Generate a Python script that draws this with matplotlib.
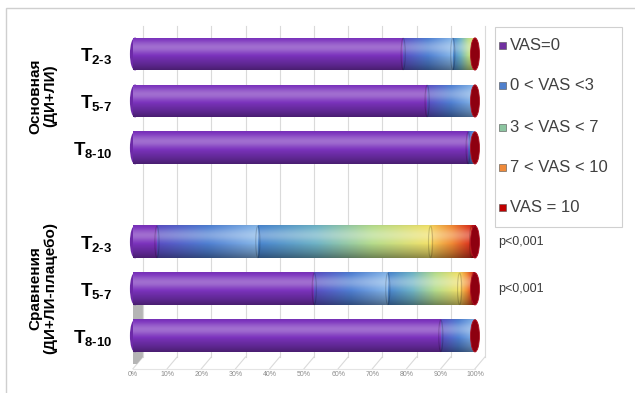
import numpy as np
import matplotlib
matplotlib.use("Agg")
import matplotlib.pyplot as plt
from matplotlib.patches import Ellipse, Rectangle, Polygon
from matplotlib.colors import LinearSegmentedColormap

plt.rcParams['font.family'] = ['Liberation Sans', 'DejaVu Sans']
plt.rcParams['mathtext.fontset'] = 'custom'
plt.rcParams['mathtext.bf'] = 'Liberation Sans:bold'
plt.rcParams['mathtext.rm'] = 'Liberation Sans'

# ---------------- data ----------------
HY = '\u2010'
categories = ['$\\mathbf{T}_{\\mathbf{2' + HY + '3}}$', '$\\mathbf{T}_{\\mathbf{5' + HY + '7}}$',
              '$\\mathbf{T}_{\\mathbf{8' + HY + '10}}$',
              '$\\mathbf{T}_{\\mathbf{2' + HY + '3}}$', '$\\mathbf{T}_{\\mathbf{5' + HY + '7}}$',
              '$\\mathbf{T}_{\\mathbf{8' + HY + '10}}$']
positions = [0, 1, 2, 4, 5, 6]
series_names = ['VAS=0', '0 < VAS <3', '3 < VAS < 7', '7 < VAS < 10', 'VAS = 10']
vas_0 = [79, 86, 98, 7, 53, 90]
vas_0_3 = [14.5, 14, 2, 29.5, 21.5, 10]
vas_3_7 = [6.5, 0, 0, 50.5, 21, 0]
vas_7_10 = [0, 0, 0, 12, 4, 0]
vas_10 = [0, 0, 0, 1, 0.5, 0]
series = [vas_0, vas_0_3, vas_3_7, vas_7_10, vas_10]
p_labels = ['p<0,001', 'p<0,001']
p_positions = [4, 5]
xticks = list(range(0, 101, 10))
group_labels = ['Основная\n(ДИ+ЛИ)', 'Сравнения\n(ДИ+ЛИ-плацебо)']

# gradient colours for each series (left -> right along the segment)
grads = [
    ['#7b33bd', '#7b33bd'],
    ['#5a4fc4', '#4f7fd2', '#86b6e8'],
    ['#4a86cf', '#6fb3c6', '#b6dc8c', '#f2e16a'],
    ['#f5cf5a', '#f08a35', '#d8281c'],
    ['#c8141a', '#a00010'],
]
legend_colors = ['#7030a0', '#4f7fcc', '#8cc5a0', '#ef8a3a', '#c00000']

W, H = 635, 393
fig = plt.figure(figsize=(W / 100, H / 100), dpi=100)

def fx(px):
    return px / W

def fy(py):
    return 1 - py / H

ax_left, ax_right = 133, 475
ax_top, ax_bot = 25.8, 364
ax = fig.add_axes([fx(ax_left), fy(ax_bot), (ax_right - ax_left) / W, (ax_bot - ax_top) / H])
ax.set_xlim(0, 100)
ax.set_ylim(6.6, -0.6)
for s in ax.spines.values():
    s.set_visible(False)
ax.set_xticks([])
ax.set_yticks(positions)
ax.set_yticklabels(categories, fontsize=13.5)
ax.tick_params(axis='y', length=0, pad=15)
ax.patch.set_alpha(0)

# back wall gridlines and floor (3D look)
off = 2.9
for t in xticks:
    ax.plot([t + off, t + off], [-0.6, 6.45], color='#dadada', lw=0.8, zorder=0, clip_on=False)
    ax.plot([t + off, t], [6.45, 6.7], color='#dadada', lw=0.8, zorder=0, clip_on=False)
    ax.text(t, 6.82, f'{t}%', ha='center', va='center', fontsize=5, color='#8c8c8c')
ax.plot([0, 100], [6.7, 6.7], color='#e4e4e4', lw=0.8, zorder=0, clip_on=False)
ax.add_patch(Polygon([(0, 5.3), (off, 5.1), (off, 6.45), (0, 6.7)], closed=True,
                     facecolor='#b5b5b5', edgecolor='none', zorder=0.5))

# vertical cylinder shading profile
nv = 40
tv = np.linspace(0, 1, nv)
shade = 1 + 0.32 * np.exp(-((tv - 0.3) / 0.2) ** 2) - 0.4 * (np.abs(tv - 0.3) / 0.7) ** 2

def shaded_image(cmap, nh=80):
    base = cmap(np.linspace(0, 1, nh))[:, :3]
    img = np.empty((nv, nh, 3))
    for i, f in enumerate(shade):
        if f >= 1:
            img[i] = base + (1 - base) * (f - 1) * 0.9
        else:
            img[i] = base * f
    return np.clip(img, 0, 1)

bar_h = 0.7
lefts = np.zeros(len(positions))
for k, vals in enumerate(series):
    cmap = LinearSegmentedColormap.from_list(f's{k}', grads[k])
    img = shaded_image(cmap)
    bars = ax.barh(positions, vals, left=lefts, height=bar_h, color=grads[k][0],
                   edgecolor='none', zorder=2)
    for rect, v in zip(bars, vals):
        if v <= 0:
            continue
        x0, y0, w, h = rect.get_x(), rect.get_y(), rect.get_width(), rect.get_height()
        im = ax.imshow(img, extent=[x0, x0 + w, y0 + h, y0], aspect='auto',
                       interpolation='bilinear', zorder=2.1)
        im.set_clip_path(rect)
        if x0 > 0.5:
            ax.add_patch(Ellipse((x0, y0 + h / 2), 1.2, h * 0.96, facecolor='none',
                                 edgecolor=(0, 0, 0, 0.18), lw=0.8, zorder=2.3))
    lefts = lefts + np.array(vals)

ax.set_xlim(0, 100)
ax.set_ylim(6.6, -0.6)

# rounded left ends and dark red right caps
for p in positions:
    ax.add_patch(Ellipse((0.6, p), 3.0, bar_h, facecolor='#6d2aa8', edgecolor='none',
                         zorder=1.9, clip_on=False))
    ax.add_patch(Ellipse((100, p), 2.6, bar_h * 0.98, facecolor='#8e0010', edgecolor='#b01020',
                         lw=0.6, zorder=3, clip_on=False))

# p-values
for lab, p in zip(p_labels, p_positions):
    fig.text(fx(498), fy(ax_top + (p + 0.6) * (ax_bot - ax_top) / 7.2), lab, fontsize=9,
             color='#3a3a3a', ha='left', va='center')

# group labels
fig.text(fx(43), fy(96), group_labels[0], rotation=90, ha='center', va='center',
         fontsize=11, fontweight='bold', multialignment='center', linespacing=1.05)
fig.text(fx(43), fy(288), group_labels[1], rotation=90, ha='center', va='center',
         fontsize=11, fontweight='bold', multialignment='center', linespacing=1.05)

# legend (manual)
fig.patches.append(Rectangle((fx(495), fy(227)), fx(622 - 495), (227 - 27) / H,
                             transform=fig.transFigure, facecolor='white',
                             edgecolor='#d0d0d0', lw=0.8, figure=fig))
leg_y = [45, 85, 127, 167, 208]
for name, col, yy in zip(series_names, legend_colors, leg_y):
    fig.patches.append(Rectangle((fx(499), fy(yy + 3.5)), 7 / W, 7 / H,
                                 transform=fig.transFigure, facecolor=col,
                                 edgecolor='#505050', lw=0.4, figure=fig))
    fig.text(fx(510), fy(yy), name, fontsize=12, color='#404040', ha='left', va='center')

# outer chart border
fig.patches.append(Rectangle((fx(6), fy(400)), fx(640), (400 - 8) / H,
                             transform=fig.transFigure, facecolor='none',
                             edgecolor='#cfcfcf', lw=1.0, figure=fig))

fig.savefig('out.png', dpi=100)
